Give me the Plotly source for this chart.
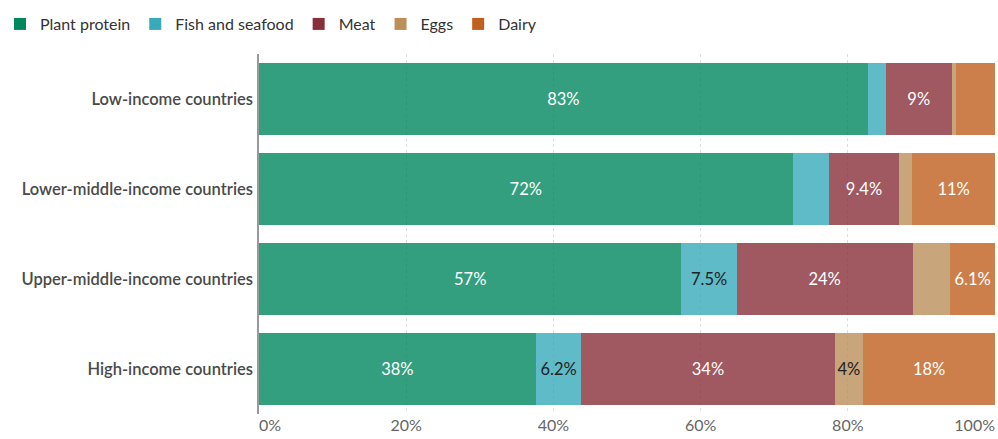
import plotly.graph_objects as go

categories = ["Low-income countries", "Lower-middle-income countries",
              "Upper-middle-income countries", "High-income countries"]
series_names = ["Plant protein", "Fish and seafood", "Meat", "Eggs", "Dairy"]

plant = [82.7, 72.5, 57.4, 37.6]
fish = [2.45, 5.0, 7.5, 6.2]
meat = [8.97, 9.4, 23.9, 34.4]
eggs = [0.6, 1.85, 5.1, 3.9]
dairy = [5.28, 11.25, 6.1, 17.9]

plant_labels = ["83%", "72%", "57%", "38%"]
fish_labels = ["", "", "7.5%", "6.2%"]
meat_labels = ["9%", "9.4%", "24%", "34%"]
eggs_labels = ["", "", "", "4%"]
dairy_labels = ["", "11%", "6.1%", "18%"]

tick_vals = [0, 20, 40, 60, 80, 100]
tick_text = ["0%", "20%", "40%", "60%", "80%", "100%"]

colors = ["#00875E", "#38AABA", "#883039", "#BC8E5A", "#C15F1E"]
text_colors = ["white", "#222222", "white", "#222222", "white"]

values = [plant, fish, meat, eggs, dairy]
labels = [plant_labels, fish_labels, meat_labels, eggs_labels, dairy_labels]

fig = go.Figure()
for name, vals, labs, col, tcol in zip(series_names, values, labels, colors, text_colors):
    fig.add_trace(go.Bar(
        y=categories, x=vals, name=name, orientation="h",
        marker=dict(color=col, opacity=0.8, line=dict(width=0)),
        text=labs, textposition="inside", insidetextanchor="middle",
        textangle=0, constraintext="none",
        textfont=dict(family="Lato", size=16.5, color=tcol),
    ))

# helper axes for the end tick labels (aligned at the ends like the reference)
fig.add_trace(go.Scatter(x=[0, 100], y=[None, None], xaxis="x2", yaxis="y",
                         showlegend=False, hoverinfo="skip"))
fig.add_trace(go.Scatter(x=[0, 100], y=[None, None], xaxis="x3", yaxis="y",
                         showlegend=False, hoverinfo="skip"))

axis_font = dict(family="Lato", size=16, color="#666666")

fig.update_layout(
    barmode="stack",
    bargap=0.2,
    width=998, height=439,
    margin=dict(l=259, r=3, t=54, b=25, autoexpand=False),
    plot_bgcolor="white", paper_bgcolor="white",
    font=dict(family="Lato", size=14, color="#333333"),
    legend=dict(orientation="h", xref="container", yref="container",
                x=-0.007, xanchor="left", y=0.984, yanchor="top",
                font=dict(family="Lato", size=16, color="#333333"),
                traceorder="normal"),
    xaxis=dict(range=[0, 100], tickvals=tick_vals[1:-1], ticktext=tick_text[1:-1],
               showgrid=True, gridcolor="#dddddd", griddash="dot", gridwidth=1,
               zeroline=False, showline=False, ticks="", tickfont=axis_font,
               automargin=False),
    xaxis2=dict(range=[0, 100], overlaying="x", side="bottom", anchor="y",
                tickvals=[tick_vals[0]], ticktext=[tick_text[0]],
                ticklabelposition="outside right", showgrid=False, zeroline=False,
                showline=False, ticks="", tickfont=axis_font, automargin=False),
    xaxis3=dict(range=[0, 100], overlaying="x", side="bottom", anchor="y",
                tickvals=[tick_vals[-1]], ticktext=[tick_text[-1]],
                ticklabelposition="outside left", showgrid=True, gridcolor="#dddddd",
                griddash="dot", zeroline=False,
                showline=False, ticks="", tickfont=axis_font, automargin=False),
    yaxis=dict(categoryorder="array", categoryarray=categories[::-1],
               showline=True, linecolor="#999999", linewidth=1.5,
               ticks="", ticklabelstandoff=1, automargin=False,
               tickfont=dict(family="Lato", size=16.5, color="#4a4a4a", weight=600)),
    showlegend=True,
)

fig.write_html("out.html", config={"displayModeBar": False},
               post_script="document.body.style.margin='0';"
                           "document.body.style.overflow='hidden';")
